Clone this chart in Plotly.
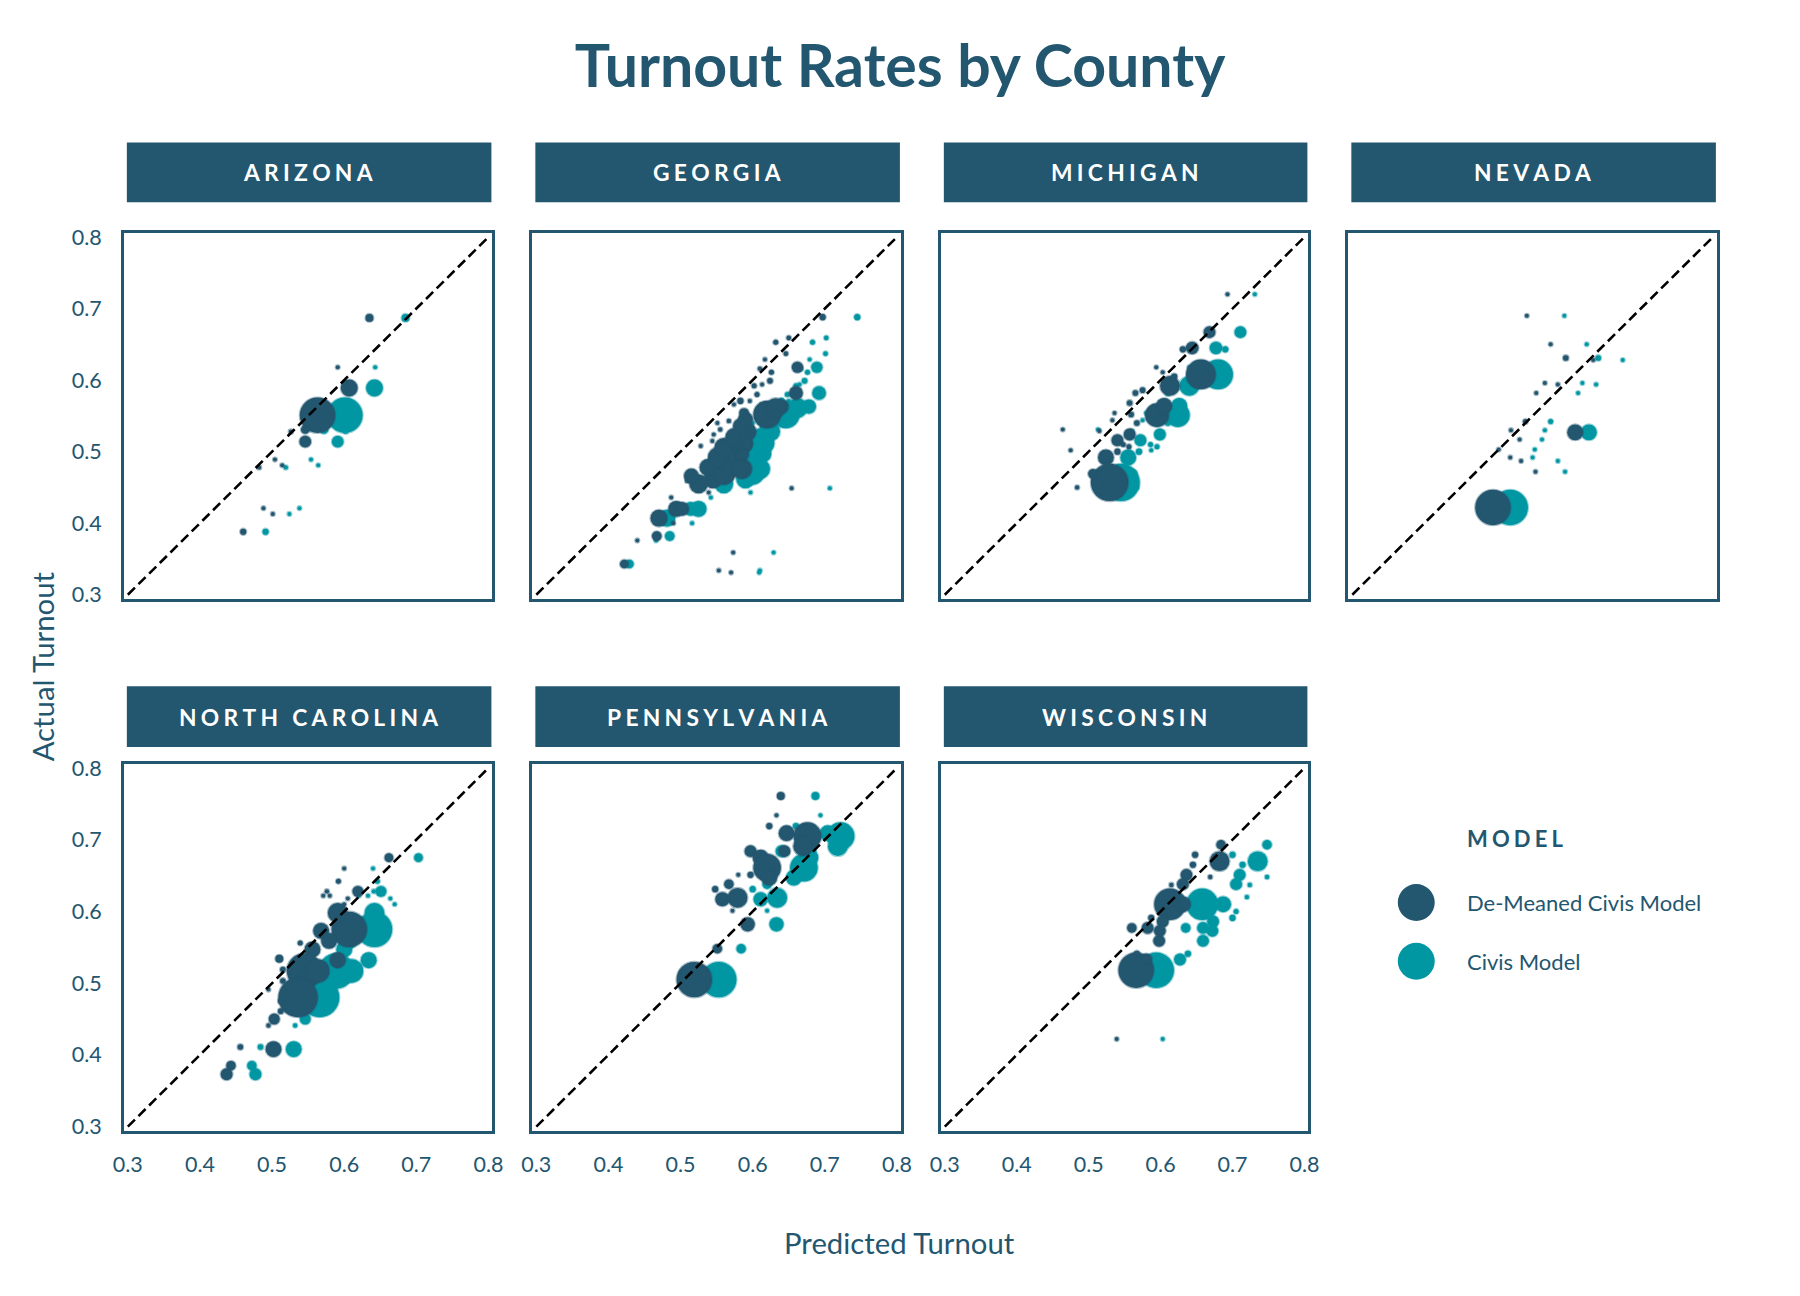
import plotly.graph_objects as go

# ---------------- data ----------------
STATES = ["ARIZONA", "GEORGIA", "MICHIGAN", "NEVADA",
          "NORTH CAROLINA", "PENNSYLVANIA", "WISCONSIN"]
TICKS = [0.3, 0.4, 0.5, 0.6, 0.7, 0.8]
TICK_TEXT = ["0.3", "0.4", "0.5", "0.6", "0.7", "0.8"]
REF_LINE = [0.3, 0.8]

AZ_ACTUAL   = [0.687, 0.618, 0.589, 0.551, 0.531, 0.528, 0.514, 0.489, 0.481, 0.478, 0.421, 0.413, 0.388]
AZ_CIVIS    = [0.685, 0.643, 0.642, 0.601, 0.572, 0.602, 0.591, 0.554, 0.564, 0.519, 0.538, 0.524, 0.491]
AZ_DEMEANED = [0.635, 0.591, 0.607, 0.563, 0.546, 0.526, 0.546, 0.504, 0.514, 0.482, 0.488, 0.501, 0.460]
AZ_VOTES    = [100, 20, 450, 2000, 120, 30, 220, 16, 10, 30, 12, 16, 60]

GA_ACTUAL   = [0.688, 0.653, 0.659, 0.637, 0.629, 0.618, 0.616, 0.611, 0.599, 0.594, 0.592, 0.582, 0.580,
               0.571, 0.571, 0.563, 0.552, 0.561,
               0.455, 0.462, 0.470, 0.478, 0.485, 0.492, 0.500, 0.506, 0.512, 0.520, 0.528, 0.536, 0.545,
               0.466, 0.476,
               0.531, 0.515, 0.508, 0.513, 0.566, 0.543, 0.540, 0.524, 0.554, 0.459, 0.436, 0.420, 0.420,
               0.407, 0.382, 0.376, 0.343, 0.359, 0.334, 0.331, 0.449, 0.443, 0.400, 0.510, 0.496]
GA_CIVIS    = [0.745, 0.683, 0.702, 0.701, 0.679, 0.689, 0.667, 0.676, 0.672, 0.665, 0.660, 0.692, 0.648,
               0.650, 0.640, 0.678, 0.646, 0.662,
               0.560, 0.590, 0.600, 0.575, 0.600, 0.590, 0.610, 0.600, 0.615, 0.612, 0.625, 0.620, 0.630,
               0.555, 0.610,
               0.579, 0.590, 0.570, 0.600, 0.620, 0.615, 0.600, 0.590, 0.634, 0.550, 0.542, 0.525, 0.514,
               0.481, 0.485, 0.466, 0.429, 0.629, 0.610, 0.609, 0.707, 0.597, 0.516, 0.618, 0.616]
GA_DEMEANED = [0.697, 0.632, 0.650, 0.646, 0.617, 0.662, 0.610, 0.626, 0.624, 0.613, 0.602, 0.660, 0.606,
               0.596, 0.583, 0.640, 0.620, 0.632,
               0.525, 0.545, 0.560, 0.538, 0.570, 0.552, 0.578, 0.560, 0.585, 0.575, 0.592, 0.583, 0.590,
               0.515, 0.585,
               0.555, 0.544, 0.528, 0.559, 0.574, 0.567, 0.551, 0.546, 0.588, 0.509, 0.487, 0.494, 0.502,
               0.470, 0.467, 0.440, 0.422, 0.573, 0.553, 0.570, 0.654, 0.539, 0.490, 0.590, 0.585]
GA_VOTES    = [60, 40, 35, 35, 12, 200, 30, 40, 50, 20, 40, 300, 40,
               20, 60, 320, 1200, 620,
               550, 550, 850, 450, 950, 650, 750, 550, 750, 550, 550, 350, 350,
               350, 650,
               30, 20, 20, 20, 25, 30, 20, 15, 150, 20, 25, 400, 300,
               450, 150, 15, 120, 25, 25, 25, 8, 8, 10, 300, 300]

MI_ACTUAL   = [0.720, 0.667, 0.645, 0.643, 0.608, 0.592, 0.605, 0.618, 0.611, 0.551, 0.564, 0.586, 0.582,
               0.568, 0.552, 0.540, 0.554, 0.544, 0.524, 0.516, 0.492, 0.457, 0.469, 0.450, 0.531, 0.502,
               0.529, 0.510, 0.507, 0.500]
MI_CIVIS    = [0.731, 0.711, 0.677, 0.690, 0.680, 0.640, 0.650, 0.640, 0.650, 0.624, 0.626, 0.617, 0.610,
               0.600, 0.600, 0.610, 0.580, 0.575, 0.599, 0.572, 0.555, 0.545, 0.561, 0.567, 0.513, 0.587,
               0.560, 0.586, 0.595, 0.570]
MI_DEMEANED = [0.693, 0.668, 0.644, 0.631, 0.656, 0.613, 0.619, 0.594, 0.603, 0.595, 0.605, 0.575, 0.565,
               0.557, 0.559, 0.567, 0.536, 0.533, 0.557, 0.540, 0.524, 0.529, 0.506, 0.484, 0.464, 0.475,
               0.515, 0.548, 0.556, 0.540]
MI_VOTES    = [10, 220, 250, 60, 1400, 620, 60, 20, 16, 890, 395, 50, 50,
               50, 50, 50, 16, 16, 222, 222, 395, 2230, 150, 30, 10, 10,
               16, 40, 40, 60]

NV_ACTUAL   = [0.690, 0.650, 0.631, 0.628, 0.596, 0.594, 0.582, 0.542, 0.530, 0.527, 0.517, 0.503, 0.492, 0.487, 0.472, 0.422]
NV_CIVIS    = [0.594, 0.625, 0.641, 0.675, 0.619, 0.638, 0.613, 0.575, 0.567, 0.628, 0.563, 0.553, 0.550, 0.585, 0.595, 0.519]
NV_DEMEANED = [0.542, 0.575, 0.596, 0.634, 0.567, 0.585, 0.555, 0.540, 0.520, 0.609, 0.532, 0.503, 0.519, 0.534, 0.554, 0.495]
NV_VOTES    = [3, 4, 50, 4, 4, 3, 5, 40, 6, 400, 3, 10, 20, 3, 25, 2000]

NC_ACTUAL   = [0.675, 0.660, 0.642, 0.628, 0.628, 0.622, 0.622, 0.618, 0.610, 0.598, 0.575, 0.573, 0.559,
               0.547, 0.556, 0.532, 0.517, 0.517, 0.534, 0.519, 0.503, 0.480, 0.475, 0.461, 0.450, 0.441,
               0.491, 0.411, 0.408, 0.385, 0.373]
NC_CIVIS    = [0.703, 0.640, 0.646, 0.651, 0.641, 0.620, 0.633, 0.664, 0.670, 0.642, 0.642, 0.614, 0.607,
               0.600, 0.580, 0.634, 0.589, 0.610, 0.550, 0.560, 0.560, 0.566, 0.570, 0.563, 0.546, 0.532,
               0.540, 0.484, 0.530, 0.472, 0.477]
NC_DEMEANED = [0.662, 0.600, 0.592, 0.619, 0.576, 0.571, 0.580, 0.605, 0.600, 0.591, 0.607, 0.568, 0.579,
               0.556, 0.539, 0.591, 0.545, 0.563, 0.510, 0.515, 0.515, 0.536, 0.512, 0.512, 0.503, 0.495,
               0.495, 0.456, 0.502, 0.443, 0.437]
NC_VOTES    = [120, 10, 40, 190, 30, 10, 10, 20, 20, 620, 2000, 400, 400,
               400, 40, 400, 2000, 890, 100, 50, 50, 2470, 50, 50, 190, 30,
               16, 50, 395, 142, 222]

PA_ACTUAL   = [0.761, 0.734, 0.719, 0.709, 0.705, 0.691, 0.684, 0.675, 0.661, 0.647, 0.684, 0.651, 0.651,
               0.638, 0.631, 0.619, 0.617, 0.601, 0.582, 0.548, 0.505]
PA_CIVIS    = [0.687, 0.694, 0.660, 0.704, 0.722, 0.718, 0.640, 0.680, 0.671, 0.657, 0.680, 0.660, 0.630,
               0.620, 0.600, 0.634, 0.611, 0.620, 0.633, 0.584, 0.553]
PA_DEMEANED = [0.639, 0.633, 0.623, 0.647, 0.676, 0.670, 0.597, 0.611, 0.620, 0.623, 0.644, 0.597, 0.580,
               0.567, 0.548, 0.579, 0.558, 0.572, 0.593, 0.551, 0.519]
PA_VOTES    = [100, 16, 60, 395, 1210, 620, 222, 395, 1210, 395, 222, 60, 16,
               142, 60, 618, 320, 16, 320, 142, 2000]

WI_ACTUAL   = [0.693, 0.670, 0.679, 0.648, 0.665, 0.651, 0.637, 0.638, 0.610, 0.610, 0.586, 0.591, 0.577,
               0.573, 0.559, 0.518, 0.541, 0.533, 0.422, 0.577, 0.620, 0.600]
WI_CIVIS    = [0.748, 0.735, 0.700, 0.748, 0.714, 0.710, 0.724, 0.705, 0.658, 0.687, 0.673, 0.700, 0.659,
               0.672, 0.659, 0.594, 0.638, 0.627, 0.603, 0.635, 0.720, 0.705]
WI_DEMEANED = [0.684, 0.682, 0.648, 0.669, 0.645, 0.636, 0.615, 0.631, 0.613, 0.631, 0.603, 0.587, 0.582,
               0.599, 0.598, 0.566, 0.567, 0.580, 0.539, 0.560, 0.628, 0.610]
WI_VOTES    = [142, 618, 60, 30, 60, 222, 30, 222, 1580, 395, 222, 60, 222,
               222, 222, 2000, 60, 222, 5, 142, 30, 40]

# ---------------- styling / layout ----------------
DARK = "#23566F"
TEAL = "#0097A3"
FONT = "Lato"
W, H = 1800, 1296
# screen-position calibration (target pixel -> figure pixel)
SX, TX = 0.989, 10.0
SY, TY = 0.990, 8.0
COLS = [(123, 492), (532, 901), (941, 1309), (1349, 1718)]
ROWS = [(233, 600), (766, 1134)]
STRIPS = [(142, 202), (688, 749)]
GRID = [(0, 0), (0, 1), (0, 2), (0, 3), (1, 0), (1, 1), (1, 2)]
RANGE = [0.2945, 0.8055]
SIZEREF = 2.0 * 2000 / 35.4 ** 2

PANELS = [
    (AZ_ACTUAL, AZ_CIVIS, AZ_DEMEANED, AZ_VOTES),
    (GA_ACTUAL, GA_CIVIS, GA_DEMEANED, GA_VOTES),
    (MI_ACTUAL, MI_CIVIS, MI_DEMEANED, MI_VOTES),
    (NV_ACTUAL, NV_CIVIS, NV_DEMEANED, NV_VOTES),
    (NC_ACTUAL, NC_CIVIS, NC_DEMEANED, NC_VOTES),
    (PA_ACTUAL, PA_CIVIS, PA_DEMEANED, PA_VOTES),
    (WI_ACTUAL, WI_CIVIS, WI_DEMEANED, WI_VOTES),
]


def px(v):
    return ((v - TX) / SX) / W


def py(v):
    return 1 - ((v - TY) / SY) / H


def spaced(s, gap="\u2009\u200a"):
    return gap.join(list(s)).replace(gap + " " + gap, "\u2002\u2009")


fig = go.Figure()
layout = {}
shapes = []
annotations = []

for i, (state, (r, c), (act, civ, dem, votes)) in enumerate(zip(STATES, GRID, PANELS)):
    k = i + 1
    xa = "x" if k == 1 else f"x{k}"
    ya = "y" if k == 1 else f"y{k}"
    xkey = "xaxis" if k == 1 else f"xaxis{k}"
    ykey = "yaxis" if k == 1 else f"yaxis{k}"
    x0, x1 = COLS[c]
    y0, y1 = ROWS[r]

    fig.add_trace(go.Scatter(
        x=civ, y=act, mode="markers", name="Civis Model", showlegend=False,
        xaxis=xa, yaxis=ya,
        marker=dict(size=votes, sizemode="area", sizeref=SIZEREF, sizemin=2, opacity=1,
                    color="rgb(0,151,163)",
                    line=dict(color="rgba(0,151,163,0.4)", width=2.2))))
    fig.add_trace(go.Scatter(
        x=dem, y=act, mode="markers", name="De-Meaned Civis Model", showlegend=False,
        xaxis=xa, yaxis=ya,
        marker=dict(size=votes, sizemode="area", sizeref=SIZEREF, sizemin=2, opacity=1,
                    color="rgb(35,86,111)",
                    line=dict(color="rgba(35,86,111,0.4)", width=2.2))))
    fig.add_trace(go.Scatter(
        x=REF_LINE, y=REF_LINE, mode="lines", showlegend=False, hoverinfo="skip",
        xaxis=xa, yaxis=ya,
        line=dict(color="black", dash="10px,5px", width=2.6)))

    common = dict(range=RANGE, tickvals=TICKS, ticktext=TICK_TEXT, showgrid=False,
                  zeroline=False, showline=True, mirror=True, linecolor=DARK,
                  linewidth=2.5, ticks="", tickfont=dict(family=FONT, size=21.5, color=DARK))
    layout[xkey] = dict(common, domain=[px(x0), px(x1)], anchor=ya,
                        showticklabels=(r == 1), ticklabelstandoff=13)
    layout[ykey] = dict(common, domain=[py(y1), py(y0)], anchor=xa,
                        showticklabels=(c == 0), ticklabelstandoff=15)

    s0, s1 = STRIPS[r]
    shapes.append(dict(type="rect", xref="paper", yref="paper",
                       x0=px(x0 + 3), x1=px(x1 - 1), y0=py(s1), y1=py(s0),
                       fillcolor=DARK, line=dict(width=0), layer="below"))
    annotations.append(dict(text=spaced(state), xref="paper", yref="paper",
                            x=px((x0 + x1) / 2), y=py((s0 + s1) / 2),
                            showarrow=False, xanchor="center", yanchor="middle",
                            font=dict(family=FONT, size=22.8, color="white", weight=700)))

# axis titles
annotations.append(dict(text="Actual Turnout", xref="paper", yref="paper",
                        x=px(41), y=py(668), textangle=-90, showarrow=False,
                        xanchor="center", yanchor="middle",
                        font=dict(family=FONT, size=29.3, color=DARK)))
annotations.append(dict(text="Predicted Turnout", xref="paper", yref="paper",
                        x=px(900), y=py(1246), showarrow=False,
                        xanchor="center", yanchor="middle",
                        font=dict(family=FONT, size=29.3, color=DARK)))

# custom legend
annotations.append(dict(text=spaced("MODEL"), xref="paper", yref="paper",
                        x=px(1466), y=py(841), showarrow=False,
                        xanchor="left", yanchor="middle",
                        font=dict(family=FONT, size=22, color=DARK, weight=700)))
for label, color, cy in [("De-Meaned Civis Model", DARK, 905), ("Civis Model", TEAL, 964)]:
    shapes.append(dict(type="circle", xref="paper", yref="paper",
                       x0=px(1417 - 18.5), x1=px(1417 + 18.5),
                       y0=py(cy + 18.5), y1=py(cy - 18.5),
                       fillcolor=color, line=dict(width=0)))
    annotations.append(dict(text=label, xref="paper", yref="paper",
                            x=px(1466), y=py(cy), showarrow=False,
                            xanchor="left", yanchor="middle",
                            font=dict(family=FONT, size=22, color=DARK)))

fig.update_layout(
    width=W, height=H,
    margin=dict(l=0, r=0, t=0, b=0),
    paper_bgcolor="white", plot_bgcolor="white",
    title=dict(text="<b>Turnout Rates by County</b>", x=0.5, xanchor="center",
               y=1 - 66 / H, yanchor="middle",
               font=dict(family=FONT, size=59, color=DARK)),
    shapes=shapes, annotations=annotations, showlegend=False,
    **layout)

fig.write_html("out.html", config={"displayModeBar": False},
               post_script="document.body.style.margin='0';document.body.style.overflow='hidden';")
